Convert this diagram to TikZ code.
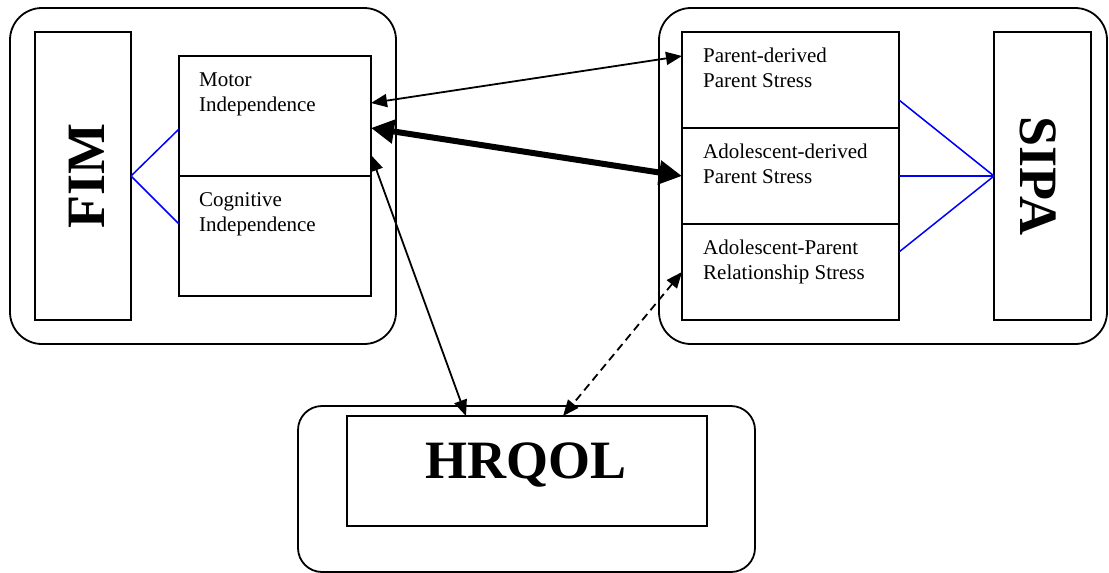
\documentclass[tikz,border=0pt]{standalone}
\usepackage{fontspec}
\setmainfont{Liberation Serif}
\usetikzlibrary{arrows.meta}
\begin{document}
\begin{tikzpicture}[x=1pt,y=-1pt,
  box/.style={draw,line width=1.8pt,inner sep=0pt,outer sep=0pt},
  outerbox/.style={draw,line width=1.8pt,inner sep=0pt,outer sep=0pt,rounded corners=#1},
  lbl/.style={anchor=north west,inner sep=0pt,align=left,font=\fontsize{21}{25}\selectfont},
  big/.style={font=\fontsize{54}{60}\selectfont\bfseries,inner sep=0pt},
  link/.style={blue,line width=1.5pt},
  thinarr/.style={line width=1.8pt,{Triangle[length=16pt,width=13pt]}-{Triangle[length=16pt,width=13pt]}},
  thickarr/.style={line width=6pt,{Triangle[length=23pt,width=23pt]}-{Triangle[length=23pt,width=23pt]}},
  dasharr/.style={thinarr,dash pattern=on 8pt off 5pt}]
\useasboundingbox (0,0) rectangle (1109,573);

% outer containers
\node[outerbox=32pt,minimum width=386pt,minimum height=336pt] (leftc) at (203,176) {};
\node[outerbox=32pt,minimum width=448pt,minimum height=336pt] (rightc) at (883,176) {};
\node[outerbox=24pt,minimum width=457pt,minimum height=166pt] (bottomc) at (526.5,489) {};

% left group
\node[box,minimum width=96pt,minimum height=288pt] (fim) at (83,176) {};
\node[big,rotate=90] (fimt) at (87,176) {FIM};
\node[box,minimum width=192pt,minimum height=120pt] (mbox) at (275,116) {};
\node[box,minimum width=192pt,minimum height=120pt] (cbox) at (275,236) {};
\node[lbl] (mt) at (199,73) {Motor\\Independence};
\node[lbl] (ct) at (199,192) {Cognitive\\Independence};
\draw[link] (fim.east) -- ([yshift=-13pt]mbox.west);
\draw[link] (fim.east) -- ([yshift=12pt]cbox.west);

% right group
\node[box,minimum width=217pt,minimum height=96pt] (pds) at (790.5,80) {};
\node[box,minimum width=217pt,minimum height=96pt] (ads) at (790.5,176) {};
\node[box,minimum width=217pt,minimum height=96pt] (aprs) at (790.5,272) {};
\node[lbl] (pdt) at (703,48) {Parent-derived\\Parent Stress};
\node[lbl] (adt) at (703,144) {Adolescent-derived\\Parent Stress};
\node[lbl] (aprt) at (703,240) {Adolescent-Parent\\Relationship Stress};
\node[box,minimum width=97pt,minimum height=288pt] (sipa) at (1042.5,176) {};
\node[big,rotate=-90] (sipat) at (1038,176) {SIPA};
\draw[link] ([yshift=-20pt]pds.east) -- (sipa.west);
\draw[link] (ads.east) -- (sipa.west);
\draw[link] ([yshift=20pt]aprs.east) -- (sipa.west);

% bottom
\node[box,minimum width=360pt,minimum height=110pt] (hbox) at (527,471) {};
\node[big,anchor=base] (ht) at (526,478) {HRQOL};

% connectors
\draw[thinarr] ([yshift=13pt]mbox.east) -- ([yshift=24pt]pds.west);
\draw[thickarr] ([yshift=-12pt]mbox.east) -- (ads.west);
\draw[thinarr] ([yshift=-39pt]mbox.east) -- ([xshift=-61pt]hbox.north);
\draw[dasharr] (aprs.west) -- ([xshift=36pt]hbox.north);
\end{tikzpicture}
\end{document}
